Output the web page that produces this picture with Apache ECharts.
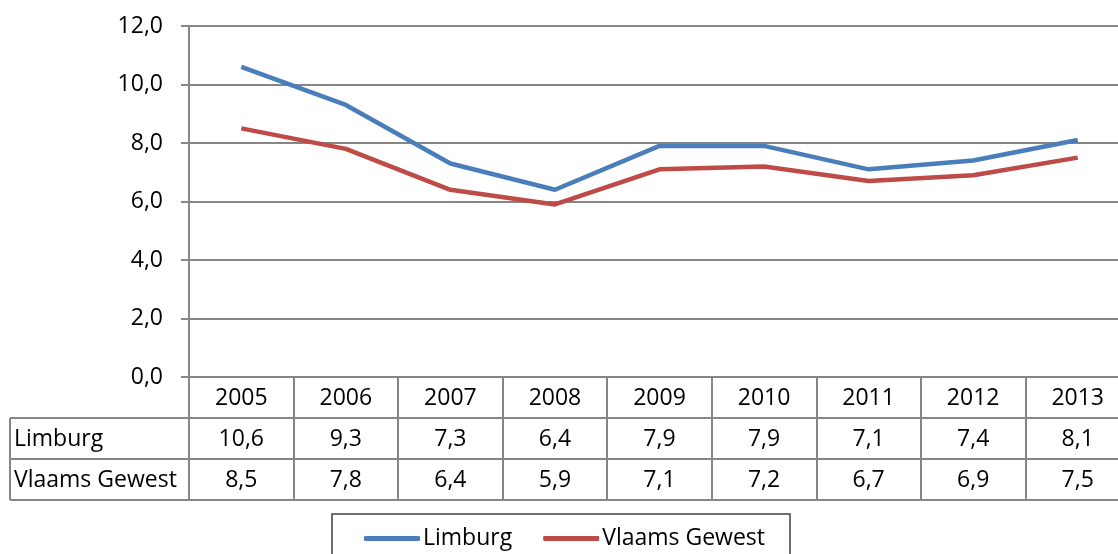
<!DOCTYPE html>
<html>
<head>
<meta charset="utf-8">
<script src="https://cdn.jsdelivr.net/npm/echarts@6/dist/echarts.min.js"></script>
<style>
html,body{margin:0;padding:0;background:#fff;}
#main{width:1118px;height:554px;}
</style>
</head>
<body>
<div id="main"></div>
<script>
const years = ['2005','2006','2007','2008','2009','2010','2011','2012','2013'];
const limburg = [10.6, 9.3, 7.3, 6.4, 7.9, 7.9, 7.1, 7.4, 8.1];
const vlaams = [8.5, 7.8, 6.4, 5.9, 7.1, 7.2, 6.7, 6.9, 7.5];
const seriesNames = ['Limburg', 'Vlaams Gewest'];
const yTicks = { min: 0, max: 12, interval: 2 };

const fmt = v => v.toFixed(1).replace('.', ',');
const FONT = '"Open Sans", "Noto Sans", sans-serif';
const GRAY = '#868686';
const FS = 23;

const chart = echarts.init(document.getElementById('main'), null, { renderer: 'canvas' });

function tableAxis(data, offset) {
  return {
    type: 'category',
    data: data,
    position: 'bottom',
    offset: offset,
    boundaryGap: true,
    axisLine: { show: true, lineStyle: { color: GRAY, width: 2 } },
    axisTick: { show: true, inside: false, length: 41, lineStyle: { color: GRAY, width: 2 } },
    axisLabel: { show: true, margin: 10, color: '#000', fontFamily: FONT, fontSize: FS, interval: 0 },
    splitLine: { show: false }
  };
}

const option = {
  backgroundColor: '#fff',
  animation: false,
  color: ['#4A7EBB', '#BE4B48'],
  grid: { left: 189, width: 941, top: 26, height: 351, containLabel: false, outerBoundsMode: 'none' },
  legend: {
    data: seriesNames,
    left: 332,
    top: 514,
    orient: 'horizontal',
    padding: [13, 25, 13, 32],
    itemGap: 31,
    itemWidth: 56,
    itemHeight: 5,
    icon: 'roundRect',
    borderColor: '#404040',
    borderWidth: 1.5,
    backgroundColor: '#fff',
    textStyle: { color: '#000', fontFamily: FONT, fontSize: FS, padding: [0, 0, 0, -2] }
  },
  xAxis: [
    tableAxis(years, 0),
    tableAxis(limburg.map(fmt), 41),
    tableAxis(vlaams.map(fmt), 82)
  ],
  yAxis: {
    type: 'value',
    min: yTicks.min,
    max: yTicks.max,
    interval: yTicks.interval,
    axisLine: { show: true, lineStyle: { color: GRAY, width: 2 } },
    axisTick: { show: true, inside: false, length: 8, lineStyle: { color: GRAY, width: 2 } },
    axisLabel: { margin: 26, color: '#000', fontFamily: FONT, fontSize: FS, formatter: v => fmt(v) },
    splitLine: { show: true, lineStyle: { color: GRAY, width: 2 } }
  },
  series: [
    {
      name: seriesNames[0], type: 'line', xAxisIndex: 0, data: limburg,
      symbol: 'none', lineStyle: { width: 4.5, color: '#4A7EBB' }, z: 3
    },
    {
      name: seriesNames[1], type: 'line', xAxisIndex: 0, data: vlaams,
      symbol: 'none', lineStyle: { width: 4.5, color: '#BE4B48' }, z: 3
    }
  ],
  graphic: [
    { type: 'line', shape: { x1: 10, y1: 418, x2: 189, y2: 418 }, style: { stroke: GRAY, lineWidth: 2 } },
    { type: 'line', shape: { x1: 10, y1: 459, x2: 189, y2: 459 }, style: { stroke: GRAY, lineWidth: 2 } },
    { type: 'line', shape: { x1: 10, y1: 500, x2: 1130, y2: 500 }, style: { stroke: GRAY, lineWidth: 2 } },
    { type: 'line', shape: { x1: 10, y1: 418, x2: 10, y2: 500 }, style: { stroke: GRAY, lineWidth: 2 } },
    { type: 'text', x: 14, y: 439, style: { text: seriesNames[0], fill: '#000', font: FS + 'px ' + FONT, verticalAlign: 'middle' } },
    { type: 'text', x: 14, y: 480, style: { text: seriesNames[1], fill: '#000', font: FS + 'px ' + FONT, verticalAlign: 'middle' } }
  ]
};
chart.setOption(option);
</script>
</body>
</html>
